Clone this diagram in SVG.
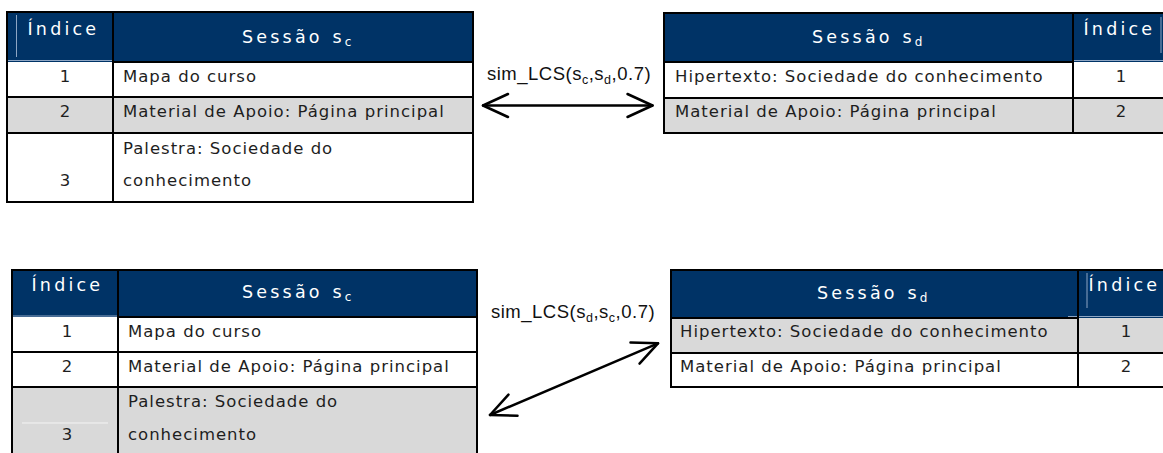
<svg xmlns="http://www.w3.org/2000/svg" width="1163" height="453" viewBox="0 0 1163 453">
  <defs>
    <style>
      .hdr { fill: #003366; }
      .gray { fill: #d9d9d9; }
      .white { fill: #ffffff; }
      .ln { stroke: #000; stroke-width: 2; fill: none; }
      .hl { stroke: #8ea6c4; stroke-width: 1; fill: none; }
      .wl { stroke: #f4f4f4; stroke-width: 1; fill: none; }
      .ht { font-family: "DejaVu Sans", Verdana, sans-serif; font-size: 17.5px; letter-spacing: 3.2px; word-spacing: 1px; fill: #ffffff; }
      .hs { font-size: 12px; letter-spacing: 0; }
      .ct { font-family: "DejaVu Sans", Verdana, sans-serif; font-size: 16.5px; letter-spacing: 1px; fill: #1e1e1e; }
      .ix { text-anchor: middle; letter-spacing: 0; }
      .lb { font-family: "Liberation Sans", Arial, sans-serif; font-size: 18.5px; letter-spacing: 0.5px; fill: #111; }
      .sub { font-size: 12.5px; }
      .arr { stroke: #000; stroke-width: 2.5; fill: none; stroke-linecap: round; stroke-linejoin: round; }
    </style>
    <marker id="head" viewBox="-28 -14 30 28" markerWidth="30" markerHeight="28" refX="0" refY="0" orient="auto-start-reverse" markerUnits="userSpaceOnUse">
      <path d="M -25 -11.5 L 0 0 L -25 11.5" stroke="#000" stroke-width="2.5" fill="none" stroke-linecap="round" stroke-linejoin="round"/>
    </marker>
  </defs>

  <rect x="0" y="0" width="1163" height="453" fill="#ffffff"/>

  <!-- Top-left table: Sessão s_c -->
  <g id="table-sc-top">
    <rect class="white" x="7" y="12" width="466" height="190"/>
    <rect class="hdr" x="7" y="12" width="466" height="50"/>
    <rect class="gray" x="7" y="97" width="466" height="36"/>
    <line class="hl" x1="16.5" y1="15" x2="16.5" y2="57"/>
    <line class="hl" x1="8" y1="60.5" x2="112" y2="60.5"/>
    <line class="ln" x1="113" y1="62" x2="473" y2="62"/>
    <line class="ln" x1="7" y1="97" x2="473" y2="97"/>
    <line class="ln" x1="7" y1="133" x2="473" y2="133"/>
    <line class="ln" x1="113" y1="12" x2="113" y2="202"/>
    <rect class="ln" x="7" y="12" width="466" height="190"/>
    <text class="ht" x="27.5" y="35">Índice</text>
    <text class="ht" x="242" y="43">Sessão s<tspan class="hs" dy="2.5">c</tspan></text>
    <text class="ct ix" x="65" y="81.5">1</text>
    <text class="ct" x="123" y="81.5">Mapa do curso</text>
    <text class="ct ix" x="65" y="117">2</text>
    <text class="ct" x="123" y="117">Material de Apoio: Página principal</text>
    <text class="ct" x="123" y="153.5">Palestra: Sociedade do</text>
    <text class="ct ix" x="65" y="185.5">3</text>
    <text class="ct" x="123" y="185.5">conhecimento</text>
  </g>

  <!-- Top-right table: Sessão s_d -->
  <g id="table-sd-top">
    <rect class="white" x="664" y="13" width="506" height="120"/>
    <rect class="hdr" x="664" y="13" width="506" height="49"/>
    <rect class="gray" x="664" y="98" width="506" height="35"/>
    <line class="hl" x1="1161" y1="17" x2="1161" y2="53"/>
    <line class="hl" x1="1074" y1="60.5" x2="1163" y2="60.5"/>
    <line class="ln" x1="664" y1="62" x2="1073" y2="62"/>
    <line class="ln" x1="664" y1="98" x2="1170" y2="98"/>
    <line class="ln" x1="1073" y1="12" x2="1073" y2="133"/>
    <rect class="ln" x="664" y="13" width="506" height="120"/>
    <text class="ht" x="812" y="43">Sessão s<tspan class="hs" dy="2.5">d</tspan></text>
    <text class="ht" x="1083.5" y="35">Índice</text>
    <text class="ct" x="675" y="82">Hipertexto: Sociedade do conhecimento</text>
    <text class="ct ix" x="1121" y="82">1</text>
    <text class="ct" x="675" y="117">Material de Apoio: Página principal</text>
    <text class="ct ix" x="1121" y="117">2</text>
  </g>

  <!-- Bottom-left table: Sessão s_c -->
  <g id="table-sc-bottom">
    <rect class="white" x="12" y="270" width="465" height="190"/>
    <rect class="hdr" x="12" y="270" width="465" height="47"/>
    <rect class="gray" x="12" y="387" width="465" height="73"/>
    <line class="hl" x1="13" y1="316" x2="117" y2="316"/>
    <line class="ln" x1="118" y1="317" x2="477" y2="317"/>
    <line class="ln" x1="12" y1="352" x2="477" y2="352"/>
    <line class="ln" x1="12" y1="387" x2="477" y2="387"/>
    <line class="ln" x1="118" y1="270" x2="118" y2="460"/>
    <line class="wl" x1="22" y1="423" x2="108" y2="423"/>
    <rect class="ln" x="12" y="270" width="465" height="190"/>
    <text class="ht" x="31.5" y="291">Índice</text>
    <text class="ht" x="242" y="298">Sessão s<tspan class="hs" dy="2.5">c</tspan></text>
    <text class="ct ix" x="67" y="337">1</text>
    <text class="ct" x="128" y="337">Mapa do curso</text>
    <text class="ct ix" x="67" y="371.5">2</text>
    <text class="ct" x="128" y="371.5">Material de Apoio: Página principal</text>
    <text class="ct" x="128" y="407">Palestra: Sociedade do</text>
    <text class="ct ix" x="67" y="439.5">3</text>
    <text class="ct" x="128" y="439.5">conhecimento</text>
  </g>

  <!-- Bottom-right table: Sessão s_d -->
  <g id="table-sd-bottom">
    <rect class="white" x="671" y="270" width="499" height="117"/>
    <rect class="hdr" x="671" y="270" width="499" height="48"/>
    <rect class="gray" x="671" y="318" width="499" height="35"/>
    <line class="hl" x1="1087" y1="273" x2="1087" y2="308"/>
    <line class="hl" x1="1068" y1="316.5" x2="1163" y2="316.5"/>
    <line class="ln" x1="671" y1="318" x2="1078" y2="318"/>
    <line class="ln" x1="671" y1="353" x2="1170" y2="353"/>
    <line class="ln" x1="1078" y1="270" x2="1078" y2="387"/>
    <rect class="ln" x="671" y="270" width="499" height="117"/>
    <text class="ht" x="817" y="299">Sessão s<tspan class="hs" dy="2.5">d</tspan></text>
    <text class="ht" x="1088.5" y="291">Índice</text>
    <text class="ct" x="680" y="337">Hipertexto: Sociedade do conhecimento</text>
    <text class="ct ix" x="1126" y="337">1</text>
    <text class="ct" x="680" y="371.5">Material de Apoio: Página principal</text>
    <text class="ct ix" x="1126" y="371.5">2</text>
  </g>

  <!-- Connectors -->
  <g id="connectors">
    <line class="arr" x1="483" y1="105.5" x2="652.5" y2="105.5" marker-start="url(#head)" marker-end="url(#head)"/>
    <text class="lb" x="487" y="80">sim_LCS(s<tspan class="sub" dy="4">c</tspan><tspan dy="-4">,s</tspan><tspan class="sub" dy="4">d</tspan><tspan dy="-4">,0.7)</tspan></text>
    <line class="arr" x1="490" y1="415" x2="658" y2="343.3" marker-start="url(#head)" marker-end="url(#head)"/>
    <text class="lb" x="491" y="317.5">sim_LCS(s<tspan class="sub" dy="4">d</tspan><tspan dy="-4">,s</tspan><tspan class="sub" dy="4">c</tspan><tspan dy="-4">,0.7)</tspan></text>
  </g>
</svg>
